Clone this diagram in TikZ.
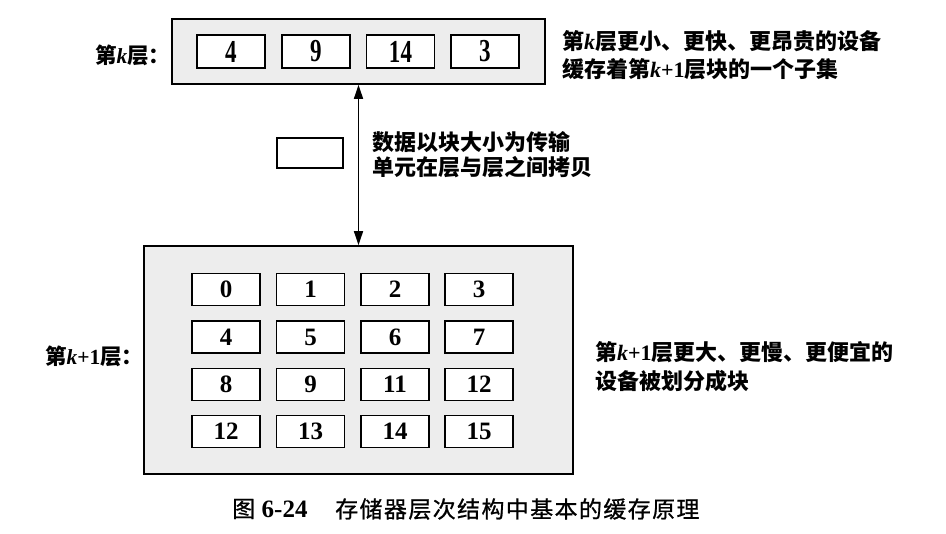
\documentclass[tikz,border=0pt]{standalone}
\usepackage{fontspec}
\usetikzlibrary{arrows.meta}
\newfontfamily\cjk{Noto Sans CJK SC}
\newfontfamily\capfont{Noto Sans CJK SC}[LetterSpace=6,FakeBold=0.8]
\newfontfamily\numfont{Liberation Serif}
\newfontfamily\numcond{Liberation Serif}[FakeStretch=0.72]
\newcommand{\kk}{{\numfont\bfseries\itshape k}}
\newcommand{\kone}{{\numfont\bfseries\itshape k\upshape+1}}
\tikzset{
  layer/.style={draw=black, line width=1.6bp, fill=black!7, inner sep=0pt},
  cellbase/.style={draw=black, line width=1.6bp, fill=white, inner sep=0pt},
  topcell/.style={cellbase, minimum width=68bp, minimum height=33bp,
    font=\numcond\bfseries\fontsize{32bp}{32bp}\selectfont},
  botcell/.style={cellbase, minimum width=68bp, minimum height=32bp,
    font=\numfont\bfseries\fontsize{25bp}{25bp}\selectfont},
  unitbox/.style={draw=black, line width=1.4bp, fill=white, minimum width=66bp, minimum height=30bp, inner sep=0pt},
  lbl/.style={inner sep=0pt, anchor=west, font=\cjk\bfseries\fontsize{21.5bp}{26bp}\selectfont},
  note/.style={inner sep=0pt, anchor=west, align=left},
  dbl/.style={line width=1.4bp, {Triangle[length=14bp,width=9bp]}-{Triangle[length=14bp,width=9bp]}},
}
\begin{document}
\begin{tikzpicture}[x=1bp,y=-1bp]
\useasboundingbox (0,0) rectangle (946,534);
% layer k
\node[layer, minimum width=373bp, minimum height=65bp] (topL) at (358.5,51.5) {};
\node[topcell] (t1) at (231,51.5) {4};
\node[topcell] (t2) at (316,51.5) {9};
\node[topcell] (t3) at (400.5,51.5) {14};
\node[topcell] (t4) at (485,51.5) {3};
\node[lbl] (lk) at (95,55) {第\kk 层：};
% layer k+1
\node[layer, minimum width=429bp, minimum height=228bp] (botL) at (358.5,360) {};
\node[botcell] (b0) at (226,289.5) {0};
\node[botcell] (b1) at (310.5,289.5) {1};
\node[botcell] (b2) at (395,289.5) {2};
\node[botcell] (b3) at (479,289.5) {3};
\node[botcell] (b4) at (226,337) {4};
\node[botcell] (b5) at (310.5,337) {5};
\node[botcell] (b6) at (395,337) {6};
\node[botcell] (b7) at (479,337) {7};
\node[botcell] (b8) at (226,384.5) {8};
\node[botcell] (b9) at (310.5,384.5) {9};
\node[botcell] (b10) at (395,384.5) {11};
\node[botcell] (b11) at (479,384.5) {12};
\node[botcell] (b12) at (226,431.5) {12};
\node[botcell] (b13) at (310.5,431.5) {13};
\node[botcell] (b14) at (395,431.5) {14};
\node[botcell] (b15) at (479,431.5) {15};
\node[lbl] (lk1) at (45,356) {第\kone 层：};
% transfer
\draw[dbl] (topL.south) -- (botL.north);
\node[unitbox] (unit) at (310,153) {};
\node[note, font=\cjk\bfseries\fontsize{22bp}{25.5bp}\selectfont] (mid) at (372,154.5) {数据以块大小为传输\\单元在层与层之间拷贝};
% notes
\node[note, font=\cjk\bfseries\fontsize{22bp}{28bp}\selectfont] (nk) at (562,55) {第\kk 层更小、更快、更昂贵的设备\\缓存着第\kone 层块的一个子集};
\node[note, font=\cjk\bfseries\fontsize{22bp}{29bp}\selectfont] (nk1) at (595,366.5) {第\kone 层更大、更慢、更便宜的\\设备被划分成块};
% caption
\node[inner sep=0pt, anchor=west, font=\fontsize{23bp}{23bp}\selectfont] (capA) at (232,509) {\capfont 图 {\numfont\bfseries\fontsize{25bp}{25bp}\selectfont 6-24}};
\node[inner sep=0pt, anchor=west, font=\capfont\fontsize{23bp}{23bp}\selectfont] (capB) at (335,509) {存储器层次结构中基本的缓存原理};
\end{tikzpicture}
\end{document}
